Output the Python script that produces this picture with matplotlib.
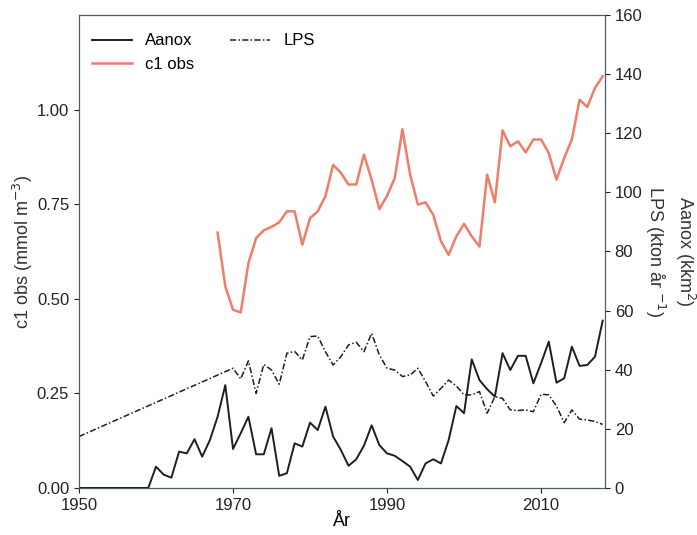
import matplotlib.pyplot as plt
from matplotlib.ticker import FormatStrFormatter

plt.rcParams['font.family'] = ['Liberation Sans', 'DejaVu Sans']
plt.rcParams['font.size'] = 12

# c1 obs (left axis), 1968-2018
c1_years = list(range(1968, 2019))
c1_obs = [0.675, 0.533, 0.471, 0.464, 0.594, 0.660, 0.681, 0.690, 0.702, 0.731,
          0.731, 0.643, 0.713, 0.731, 0.771, 0.854, 0.833, 0.802, 0.802, 0.881,
          0.815, 0.737, 0.772, 0.819, 0.948, 0.828, 0.749, 0.755, 0.722, 0.652,
          0.616, 0.665, 0.698, 0.665, 0.638, 0.828, 0.755, 0.945, 0.903, 0.916,
          0.887, 0.921, 0.921, 0.885, 0.815, 0.872, 0.921, 1.026, 1.007, 1.057,
          1.088]

# Aanox (right axis), 1950-2018
aanox_years = list(range(1950, 2019))
aanox = [0, 0, 0, 0, 0, 0, 0, 0, 0, 0,
         7.2, 4.5, 3.5, 12.3, 11.7, 16.5, 10.6, 16.2, 24.1, 34.8,
         13.2, 18.5, 24.1, 11.4, 11.4, 20.2, 4.1, 5.0, 15.1, 14.0,
         22.1, 19.6, 27.5, 17.4, 12.9, 7.5, 9.7, 14.3, 21.2, 14.5,
         11.7, 10.9, 9.1, 7.2, 2.7, 8.3, 9.7, 8.3, 16.2, 27.7,
         25.3, 43.5, 36.5, 33.4, 30.9, 45.6, 39.9, 44.7, 44.7, 35.4,
         42.2, 49.5, 35.6, 37.1, 47.8, 41.3, 41.6, 44.4, 56.6]

# LPS (right axis)
lps_years = [1950] + list(range(1970, 2019))
lps = [17.4,
       40.5, 36.9, 43.0, 32.0, 41.8, 39.9, 35.1, 45.6, 46.2, 43.3,
       51.2, 51.4, 46.1, 41.6, 44.4, 48.4, 49.3, 46.1, 52.3, 45.0,
       40.5, 39.9, 37.7, 38.2, 40.5, 36.0, 31.1, 33.7, 36.5, 34.5,
       31.5, 31.5, 32.6, 25.3, 30.9, 30.3, 26.4, 26.2, 26.4, 25.8,
       31.7, 31.5, 27.7, 22.1, 26.4, 23.3, 23.0, 22.5, 21.5]

fig = plt.figure(figsize=(6.97, 5.35), dpi=100)
ax = fig.add_axes([0.1133, 0.0879, 0.7547, 0.8841])
ax2 = ax.twinx()

red = '#f07c6a'
dark = '#1e1e1e'

l_c1, = ax.plot(c1_years, c1_obs, color=red, lw=1.8, label='c1 obs')
l_an, = ax2.plot(aanox_years, aanox, color=dark, lw=1.4, label='Aanox')
l_lps, = ax2.plot(lps_years, lps, color=dark, lw=1.1, dashes=(4, 1.5, 1, 1.5),
                  label='LPS')

ax.set_xlim(1950, 2018.3)
ax.set_ylim(0, 1.25)
ax2.set_ylim(0, 160)
ax.set_xticks([1950, 1970, 1990, 2010])
ax.set_yticks([0, 0.25, 0.5, 0.75, 1.0])
ax.yaxis.set_major_formatter(FormatStrFormatter('%.2f'))
ax2.set_yticks(range(0, 161, 20))

ax.set_xlabel('År', labelpad=0, fontsize=13)
ax.set_ylabel('c1 obs (mmol m$^{-3}$)', color='#333333', labelpad=1,
              fontsize=13)
ax2.set_ylabel('Aanox (kkm$^2$)\nLPS (kton år $^{-1}$)', rotation=270,
               labelpad=39, color='#333333', linespacing=1.3, fontsize=13)

for a in (ax, ax2):
    for s in a.spines.values():
        s.set_color('#4a5a66')
    a.tick_params(colors='#222222', length=3.5, width=0.8)

ax.legend([l_an, l_c1, l_lps], ['Aanox', 'c1 obs', 'LPS'], ncol=2,
          loc='upper left', bbox_to_anchor=(0.012, 0.975), borderaxespad=0,
          frameon=False, columnspacing=2.15, handlelength=2.4)

fig.savefig('out.png', dpi=100)
